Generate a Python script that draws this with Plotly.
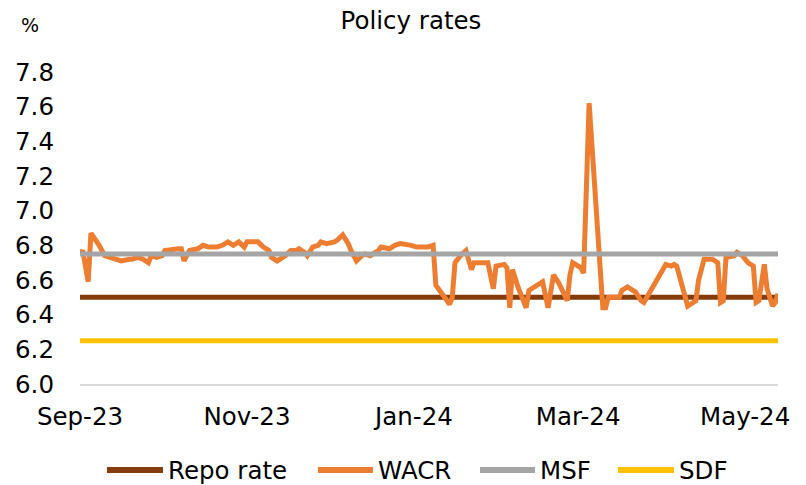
import plotly.graph_objects as go

# ---- data ----
wacr_dates = [
    "2023-09-01", "2023-09-02", "2023-09-04", "2023-09-05", "2023-09-08", "2023-09-10",
    "2023-09-12", "2023-09-14", "2023-09-16", "2023-09-19", "2023-09-20", "2023-09-22",
    "2023-09-24", "2023-09-26", "2023-09-27", "2023-09-29", "2023-10-01", "2023-10-02",
    "2023-10-05", "2023-10-07", "2023-10-08", "2023-10-09", "2023-10-11", "2023-10-14",
    "2023-10-16", "2023-10-18", "2023-10-21", "2023-10-23", "2023-10-25", "2023-10-27",
    "2023-10-29", "2023-10-31", "2023-11-01", "2023-11-03", "2023-11-05", "2023-11-07",
    "2023-11-09", "2023-11-10", "2023-11-12", "2023-11-15", "2023-11-17", "2023-11-19",
    "2023-11-20", "2023-11-22", "2023-11-23", "2023-11-25", "2023-11-27", "2023-11-28",
    "2023-11-30", "2023-12-03", "2023-12-04", "2023-12-06", "2023-12-08", "2023-12-09",
    "2023-12-11", "2023-12-13", "2023-12-14", "2023-12-16", "2023-12-19", "2023-12-20",
    "2023-12-23", "2023-12-25", "2023-12-27", "2023-12-31", "2024-01-02", "2024-01-06",
    "2024-01-08", "2024-01-09", "2024-01-12", "2024-01-14", "2024-01-15", "2024-01-16",
    "2024-01-18", "2024-01-19", "2024-01-20", "2024-01-22", "2024-01-23", "2024-01-26",
    "2024-01-28", "2024-01-30", "2024-01-31", "2024-02-03", "2024-02-04", "2024-02-05",
    "2024-02-06", "2024-02-08", "2024-02-11", "2024-02-12", "2024-02-15", "2024-02-17",
    "2024-02-19", "2024-02-21", "2024-02-23", "2024-02-26", "2024-02-27", "2024-02-28",
    "2024-03-02", "2024-03-03", "2024-03-05", "2024-03-10", "2024-03-11", "2024-03-12",
    "2024-03-14", "2024-03-16", "2024-03-17", "2024-03-19", "2024-03-22", "2024-03-24",
    "2024-03-25", "2024-03-28", "2024-03-31", "2024-04-02", "2024-04-04", "2024-04-05",
    "2024-04-06", "2024-04-10", "2024-04-13", "2024-04-14", "2024-04-16", "2024-04-19",
    "2024-04-21", "2024-04-22", "2024-04-23", "2024-04-24", "2024-04-27", "2024-04-28",
    "2024-04-30", "2024-05-02", "2024-05-04", "2024-05-05", "2024-05-06", "2024-05-08",
    "2024-05-09", "2024-05-11", "2024-05-12", "2024-05-13",
]
wacr_values = [
    6.75, 6.77, 6.59, 6.87, 6.80, 6.74,
    6.73, 6.72, 6.71, 6.72, 6.72, 6.73,
    6.72, 6.70, 6.74, 6.73, 6.74, 6.77,
    6.78, 6.78, 6.78, 6.71, 6.77, 6.78,
    6.80, 6.79, 6.79, 6.80, 6.82, 6.80,
    6.82, 6.79, 6.82, 6.82, 6.82, 6.79,
    6.77, 6.73, 6.71, 6.74, 6.77, 6.77,
    6.78, 6.76, 6.74, 6.79, 6.80, 6.82,
    6.81, 6.82, 6.83, 6.86, 6.81, 6.77,
    6.71, 6.74, 6.75, 6.74, 6.77, 6.79,
    6.78, 6.80, 6.81, 6.80, 6.79, 6.79,
    6.80, 6.57, 6.50, 6.46, 6.50, 6.70,
    6.74, 6.76, 6.77, 6.66, 6.70, 6.70,
    6.70, 6.55, 6.68, 6.69, 6.67, 6.44,
    6.66, 6.56, 6.44, 6.54, 6.57, 6.59,
    6.44, 6.63, 6.58, 6.48, 6.63, 6.70,
    6.67, 6.64, 7.62, 6.44, 6.44, 6.50,
    6.50, 6.50, 6.54, 6.56, 6.53, 6.48,
    6.47, 6.55, 6.63, 6.69, 6.68, 6.69,
    6.68, 6.45, 6.48, 6.60, 6.72, 6.72,
    6.70, 6.47, 6.48, 6.73, 6.74, 6.76,
    6.74, 6.70, 6.68, 6.47, 6.48, 6.69,
    6.55, 6.45, 6.47, 6.52,
]

rate_dates = ["2023-09-01", "2024-05-13"]
repo_rate = [6.50, 6.50]
msf_rate = [6.75, 6.75]
sdf_rate = [6.25, 6.25]

y_ticks = [6.0, 6.2, 6.4, 6.6, 6.8, 7.0, 7.2, 7.4, 7.6, 7.8]

series_names = ["Repo rate", "WACR", "MSF", "SDF"]
series_colors = ["#843C0C", "#ED7D31", "#A5A5A5", "#FFC000"]

FONT = "DejaVu Sans, Verdana, sans-serif"
W, H = 806, 485
ML, MR, MT, MB = 80, 28, 72, 101
PW, PH = W - ML - MR, H - MT - MB


def px_x(px):
    return (px - ML) / PW


def px_y(py):
    return (H - MB - py) / PH


fig = go.Figure()
fig.add_trace(go.Scatter(x=rate_dates, y=repo_rate, name=series_names[0], mode="lines",
                         line=dict(color=series_colors[0], width=5)))
fig.add_trace(go.Scatter(x=wacr_dates, y=wacr_values, name=series_names[1], mode="lines",
                         line=dict(color=series_colors[1], width=5)))
fig.add_trace(go.Scatter(x=rate_dates, y=msf_rate, name=series_names[2], mode="lines",
                         line=dict(color=series_colors[2], width=5)))
fig.add_trace(go.Scatter(x=rate_dates, y=sdf_rate, name=series_names[3], mode="lines",
                         line=dict(color=series_colors[3], width=5)))

# legend drawn beneath the plot (line swatch + label for each series)
legend_line_x = [(107, 163), (318, 373), (480, 535), (618, 674)]
legend_y = 470
shapes = []
annotations = []
for (x0, x1), name, col in zip(legend_line_x, series_names, series_colors):
    shapes.append(dict(type="line", xref="paper", yref="paper",
                       x0=px_x(x0), x1=px_x(x1), y0=px_y(legend_y), y1=px_y(legend_y),
                       line=dict(color=col, width=6)))
    annotations.append(dict(text=name, xref="paper", yref="paper",
                            x=px_x(x1 + 3), y=px_y(legend_y), xanchor="left", yanchor="middle",
                            showarrow=False, font=dict(family=FONT, size=24.5, color="#000000")))

annotations.append(dict(text="%", xref="paper", yref="paper", x=px_x(30), y=px_y(25),
                        xanchor="center", yanchor="middle", showarrow=False,
                        font=dict(family=FONT, size=19, color="#000000")))

fig.update_layout(
    width=W, height=H,
    margin=dict(l=ML, r=MR, t=MT, b=MB, autoexpand=False),
    paper_bgcolor="white", plot_bgcolor="white",
    font=dict(family=FONT, size=24.5, color="#000000"),
    title=dict(text="Policy rates", x=411 / W, xref="container", xanchor="center",
               y=1 - 20 / H, yref="container", yanchor="middle",
               font=dict(family=FONT, size=24.5, color="#000000")),
    showlegend=False,
    shapes=shapes,
    annotations=annotations,
)
fig.update_xaxes(
    type="date", range=["2023-09-01", "2024-05-13"],
    tick0="2023-09-01", dtick="M2", tickformat="%b-%y",
    showgrid=False, zeroline=False,
    showline=True, linecolor="#D9D9D9", linewidth=1.5,
    ticks="", ticklabelstandoff=10,
)
fig.update_yaxes(
    range=[6.0, 7.8], tickvals=y_ticks, tickformat=".1f",
    showgrid=False, zeroline=False, showline=False,
    ticks="", ticklabelstandoff=25,
)

fig.write_html("out.html", config={"displayModeBar": False},
               post_script="document.body.style.margin='0';")
